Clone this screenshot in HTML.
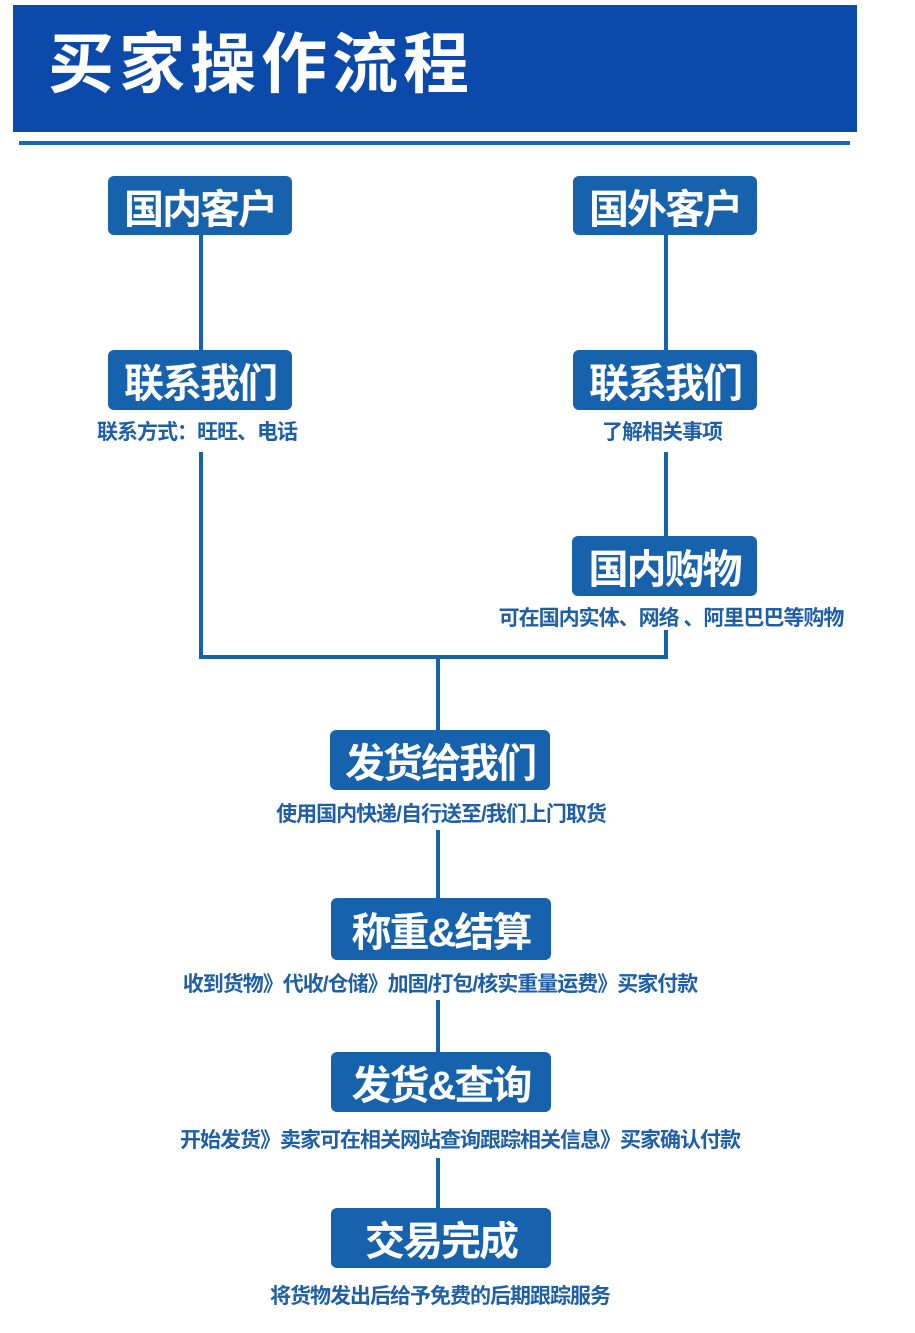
<!DOCTYPE html>
<html><head><meta charset="utf-8"><style>
body{margin:0;width:915px;height:1333px;background:#fff;position:relative;overflow:hidden;font-family:"Liberation Sans","Noto Sans CJK SC",sans-serif}
.a{position:absolute}
.hd{left:13px;top:5px;width:844px;height:127px;background:#0b4aab}
.ht{left:48px;top:24px;color:#fff;font-size:66px;font-weight:bold;letter-spacing:5px;line-height:80px}
.hl{left:19px;top:141px;width:831px;height:4px;background:#1668b8}
.b{background:#1662ad;border-radius:6px;color:#fff;font-weight:bold;display:flex;align-items:center;justify-content:center;font-size:40px;letter-spacing:-2px}
.v{background:#1662ad;width:4px}
.h{background:#1662ad;height:4px}
.s{color:#1f5fa8;font-weight:bold;font-size:21px;text-align:center;white-space:nowrap;letter-spacing:-1px}
</style></head><body>
<div class="a hd"></div>
<div class="a ht">买家操作流程</div>
<div class="a hl"></div>

<div class="a v" style="left:199px;top:235px;height:115px"></div>
<div class="a v" style="left:199px;top:452px;height:207px"></div>
<div class="a v" style="left:664px;top:235px;height:115px"></div>
<div class="a v" style="left:664px;top:452px;height:86px"></div>
<div class="a v" style="left:664px;top:630px;height:29px"></div>
<div class="a h" style="left:199px;top:655px;width:469px"></div>
<div class="a v" style="left:436px;top:657px;height:73px"></div>
<div class="a v" style="left:436px;top:830px;height:68px"></div>
<div class="a v" style="left:436px;top:1000px;height:52px"></div>
<div class="a v" style="left:436px;top:1158px;height:50px"></div>

<div class="a b" style="left:108px;top:176px;width:184px;height:59px">国内客户</div>
<div class="a b" style="left:573px;top:176px;width:184px;height:59px">国外客户</div>
<div class="a b" style="left:108px;top:350px;width:184px;height:60px">联系我们</div>
<div class="a s" style="left:47px;top:416px;width:300px">联系方式：旺旺、电话</div>
<div class="a b" style="left:573px;top:350px;width:184px;height:60px">联系我们</div>
<div class="a s" style="left:512px;top:416px;width:300px">了解相关事项</div>
<div class="a b" style="left:572px;top:536px;width:185px;height:60px">国内购物</div>
<div class="a s" style="left:461px;top:602px;width:420px">可在国内实体、网络 、阿里巴巴等购物</div>
<div class="a b" style="left:330px;top:730px;width:220px;height:60px">发货给我们</div>
<div class="a s" style="left:221px;top:798px;width:440px">使用国内快递/自行送至/我们上门取货</div>
<div class="a b" style="left:331px;top:898px;width:220px;height:62px">称重&amp;结算</div>
<div class="a s" style="left:140px;top:968px;width:600px">收到货物》代收/仓储》加固/打包/核实重量运费》买家付款</div>
<div class="a b" style="left:331px;top:1052px;width:220px;height:60px">发货&amp;查询</div>
<div class="a s" style="left:120px;top:1124px;width:680px">开始发货》卖家可在相关网站查询跟踪相关信息》买家确认付款</div>
<div class="a b" style="left:331px;top:1208px;width:220px;height:60px">交易完成</div>
<div class="a s" style="left:220px;top:1280px;width:440px">将货物发出后给予免费的后期跟踪服务</div>
</body></html>
